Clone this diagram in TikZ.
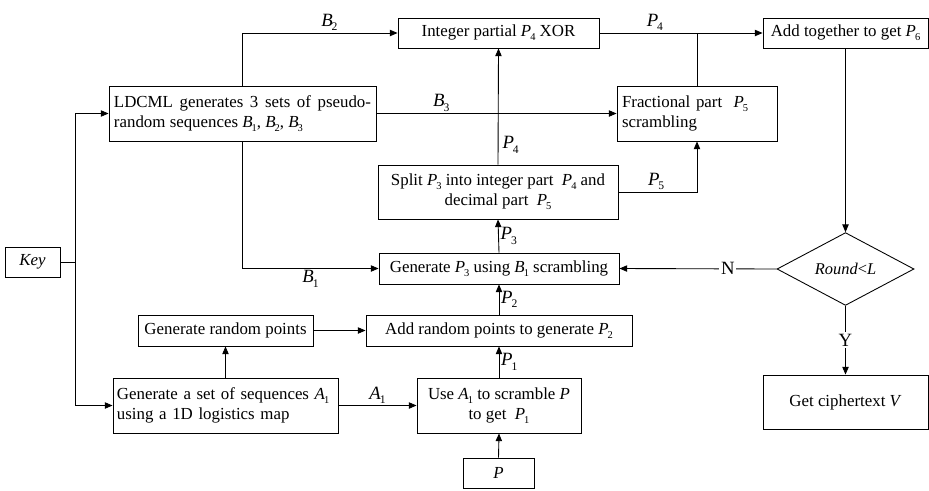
\documentclass[tikz,border=0pt]{standalone}
\usepackage{fontspec}
\setmainfont{Liberation Serif}
\usepackage{graphicx}
\usetikzlibrary{arrows.meta,shapes.geometric}
\newcommand{\sv}[2]{\textit{#1}\kern-0.06em\raisebox{-0.5ex}{\scalebox{0.62}{#2}}}
\tikzset{
  box/.style={draw, line width=0.75pt, inner xsep=0.15cm, inner ysep=2pt,
    font=\fontsize{14.4}{17}\selectfont, align=center},
  decision/.style={draw, diamond, line width=0.75pt, inner sep=0pt,
    minimum width=4.11cm, minimum height=1.62cm, font=\fontsize{14}{17}\selectfont},
  arr/.style={-{Triangle[length=2.3mm,width=1.9mm]}, line width=0.75pt},
  seg/.style={line width=0.75pt},
  lbl/.style={font=\fontsize{16}{18}\selectfont, inner sep=1.5pt}
}
\begin{document}
\begin{tikzpicture}[x=0.03cm,y=-0.03cm]
        \useasboundingbox (0,0) rectangle (929,490);
        \node[box, minimum width=1.65cm, minimum height=0.9cm] (key) at (32.5,262) {\textit{Key}};
        \node[box, minimum width=8.01cm, minimum height=1.65cm, text width=7.71cm, align=justify] (ldcml) at (242.5,113.5)
          {LDCML generates 3 sets of pseudo-\linebreak random sequences \sv{B}{1}, \sv{B}{2}, \sv{B}{3}};
        \node[box, minimum width=6.03cm, minimum height=0.9cm] (intxor) at (498.5,33) {Integer partial \sv{P}{4} XOR};
        \node[box, minimum width=4.8cm, minimum height=1.65cm, text width=4.5cm, align=left] (fracscr) at (697,113.5)
          {Fractional part \ \sv{P}{5}\\scrambling};
        \node[box, minimum width=4.95cm, minimum height=0.9cm] (addsum) at (845.5,33) {Add together to get \sv{P}{6}};
        \node[box, minimum width=7.2cm, minimum height=1.62cm] (split) at (498,192)
          {Split \sv{P}{3} into integer part \ \sv{P}{4} and\\decimal part \ \sv{P}{5}};
        \node[box, minimum width=7.2cm, minimum height=0.93cm] (genpthree) at (499,268.5) {Generate \sv{P}{3} using \sv{B}{1} scrambling};
        \node[decision] (round) at (845.5,269) {\textit{Round}<\textit{L}};
        \node[box, minimum width=4.95cm, minimum height=1.62cm] (cipher) at (845.5,402) {Get ciphertext \textit{V}};
        \node[box, minimum width=5.25cm, minimum height=0.93cm] (randpts) at (225.5,330.5) {Generate random points};
        \node[box, minimum width=7.98cm, minimum height=0.93cm] (addpts) at (499,330.5) {Add random points to generate \sv{P}{2}};
        \node[box, minimum width=6.75cm, minimum height=1.65cm, inner xsep=0.12cm, text width=6.51cm, align=left] (genseq) at (225.5,405.5)
          {Generate a set of sequences \sv{A}{1}\\using a 1D logistics map};
        \node[box, minimum width=4.92cm, minimum height=1.65cm] (usea) at (499,405.5) {Use \sv{A}{1} to scramble \textit{P}\\to get \ \sv{P}{1}};
        \node[box, minimum width=2.13cm, minimum height=0.9cm] (plain) at (498.5,473) {\textit{P}};

        \coordinate (keyj) at (75,262);
        \draw[seg] (key.east) -- (keyj);
        \draw[arr] (keyj) |- (ldcml.west);
        \draw[arr] (keyj) |- (genseq.west);
        \draw[arr] (ldcml.north) |- node[lbl, pos=0.78, above] {\sv{B}{2}} (intxor.west);
        \draw[arr] (ldcml.east) -- node[lbl, pos=0.27, above] {\sv{B}{3}} (fracscr.west);
        \draw[arr] (intxor.east) -- node[lbl, pos=0.34, above] {\sv{P}{4}} (addsum.west);
        \draw[seg] (fracscr.north) -- (fracscr.north |- intxor.east);
        \draw[arr] (split.north) -- node[lbl, pos=0.17, right=2pt] {\sv{P}{4}} (intxor.south);
        \draw[arr] (split.east) -| node[lbl, pos=0.24, above] {\sv{P}{5}} (fracscr.south);
        \draw[arr] (genpthree.north) -- node[lbl, right] {\sv{P}{3}} (split.south);
        \draw[arr] (ldcml.south) |- node[lbl, pos=0.75, below] {\sv{B}{1}} (genpthree.west);
        \draw[arr] (addsum.south) -- (round.north);
        \draw[arr] (round.west) -- node[lbl, fill=white, pos=0.31] {N} (genpthree.east);
        \draw[arr] (round.south) -- node[lbl, fill=white] {Y} (cipher.north);
        \draw[arr] (genseq.north) -- (randpts.south);
        \draw[arr] (randpts.east) -- (addpts.west);
        \draw[arr] (genseq.east) -- node[lbl, above] {\sv{A}{1}} (usea.west);
        \draw[arr] (usea.north) -- node[lbl, right] {\sv{P}{1}} (addpts.south);
        \draw[arr] (addpts.north) -- node[lbl, right] {\sv{P}{2}} (genpthree.south);
        \draw[arr] (plain.north) -- (usea.south);
      \end{tikzpicture}
\end{document}
